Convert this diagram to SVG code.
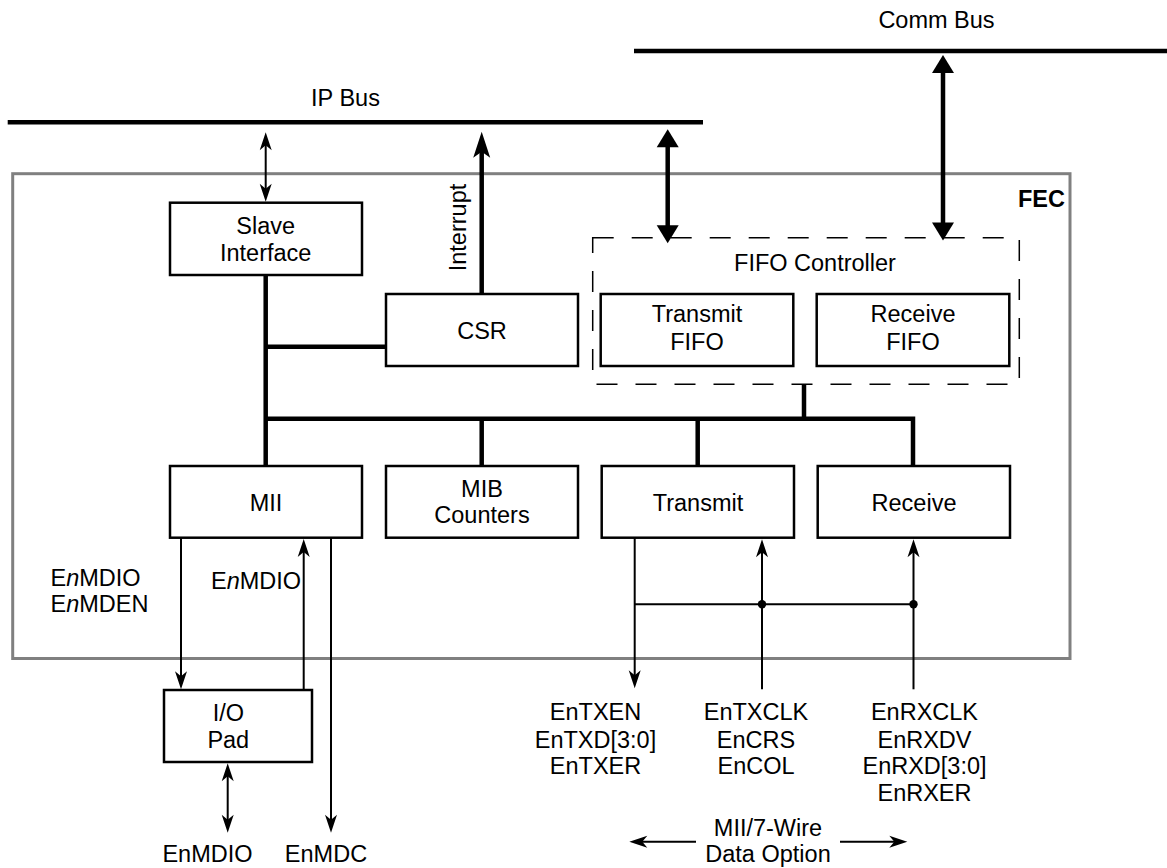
<svg xmlns="http://www.w3.org/2000/svg" width="1167" height="868" viewBox="0 0 1167 868">
<style>
text{font-family:"Liberation Sans",Arial,sans-serif;font-size:23.5px;fill:#000}
.c{text-anchor:middle}
.box{fill:#fff;stroke:#000;stroke-width:2.5}
.bus{stroke:#000;stroke-width:4.5;fill:none}
.thk{stroke:#000;stroke-width:4.5;fill:none;stroke-linejoin:miter;stroke-linecap:butt}
.thn{stroke:#000;stroke-width:2;fill:none}
</style>
<defs>
<marker id="ta" markerUnits="userSpaceOnUse" viewBox="-20 -10 32 20" refX="0" refY="0" markerWidth="32" markerHeight="20" orient="auto-start-reverse">
<path d="M8,0 L-10,-6 L-5,0 L-10,6 Z" fill="#000"/>
</marker>
<marker id="tri" markerUnits="userSpaceOnUse" viewBox="-10 -13 26 26" refX="0" refY="0" markerWidth="26" markerHeight="26" orient="auto-start-reverse">
<path d="M12,0 L-6,-11 L-6,11 Z" fill="#000"/>
</marker>
<marker id="ia" markerUnits="userSpaceOnUse" viewBox="-16 -10 30 20" refX="0" refY="0" markerWidth="30" markerHeight="20" orient="auto">
<path d="M12,0 L-14,-8.5 L-8,0 L-14,8.5 Z" fill="#000"/>
</marker>
</defs>

<g id="comm-bus">
<line class="bus" x1="634" y1="51" x2="1167" y2="51"/>
<text class="c" x="936.5" y="27.5">Comm Bus</text>
</g>
<g id="ip-bus">
<line class="bus" x1="7.7" y1="122.3" x2="703" y2="122.3"/>
<text class="c" x="345.5" y="106">IP Bus</text>
</g>

<g id="fec">
<rect x="12.7" y="173.7" width="1057.3" height="484.8" fill="none" stroke="#808080" stroke-width="3"/>
<text x="1065" y="207" text-anchor="end" font-weight="bold">FEC</text>
</g>

<g id="fifo-controller">
<rect x="592.7" y="237.7" width="426.6" height="146.6" fill="none" stroke="#000" stroke-width="1.5" stroke-dasharray="21 18"/>
<text class="c" x="815" y="270.7">FIFO Controller</text>
</g>

<g id="slave-interface">
<rect class="box" x="170" y="202.7" width="192" height="72.3"/>
<text class="c" x="265.7" y="234">Slave</text>
<text class="c" x="265.7" y="261">Interface</text>
</g>
<g id="csr">
<rect class="box" x="386" y="294" width="192" height="72"/>
<text class="c" x="482" y="338.5">CSR</text>
</g>
<g id="transmit-fifo">
<rect class="box" x="600.7" y="294" width="192.6" height="72"/>
<text class="c" x="697" y="321.7">Transmit</text>
<text class="c" x="697" y="350">FIFO</text>
</g>
<g id="receive-fifo">
<rect class="box" x="816.7" y="294" width="192.6" height="72"/>
<text class="c" x="913" y="321.7">Receive</text>
<text class="c" x="913" y="350">FIFO</text>
</g>
<g id="mii">
<rect class="box" x="170" y="466" width="192" height="71.7"/>
<text class="c" x="266" y="510.7">MII</text>
</g>
<g id="mib-counters">
<rect class="box" x="386" y="466" width="192" height="71.7"/>
<text class="c" x="482" y="496.7">MIB</text>
<text class="c" x="482" y="523.3">Counters</text>
</g>
<g id="transmit">
<rect class="box" x="601.7" y="466" width="192.3" height="71.7"/>
<text class="c" x="698" y="510.7">Transmit</text>
</g>
<g id="receive">
<rect class="box" x="817.7" y="466" width="192.3" height="71.7"/>
<text class="c" x="914" y="510.7">Receive</text>
</g>
<g id="io-pad">
<rect class="box" x="164" y="690" width="148" height="72"/>
<text class="c" x="228.3" y="721">I/O</text>
<text class="c" x="228.3" y="747.7">Pad</text>
</g>

<g id="connectors">
<!-- internal thick buses -->
<line class="thk" x1="265.7" y1="275" x2="265.7" y2="466"/>
<line class="thk" x1="265.7" y1="346.7" x2="386" y2="346.7"/>
<path class="thk" d="M265.7,418.7 H913 V466"/>
<line class="thk" x1="481.7" y1="418.7" x2="481.7" y2="466"/>
<line class="thk" x1="697.7" y1="418.7" x2="697.7" y2="466"/>
<line class="thk" x1="804" y1="385" x2="804" y2="418.7"/>
<!-- interrupt -->
<line class="thk" x1="481.7" y1="294" x2="481.7" y2="143.7" marker-end="url(#ia)"/>
<!-- thick double arrows -->
<line class="thk" x1="667.7" y1="141.3" x2="667.7" y2="231.3" marker-start="url(#tri)" marker-end="url(#tri)"/>
<line class="thk" x1="943" y1="67" x2="943" y2="228.5" marker-start="url(#tri)" marker-end="url(#tri)"/>
<!-- thin -->
<line class="thn" x1="265.7" y1="140.3" x2="265.7" y2="193.7" marker-start="url(#ta)" marker-end="url(#ta)"/>
<line class="thn" x1="181" y1="537.7" x2="181" y2="681.3" marker-end="url(#ta)"/>
<line class="thn" x1="303.7" y1="690" x2="303.7" y2="547" marker-end="url(#ta)"/>
<line class="thn" x1="331" y1="537.7" x2="331" y2="824.7" marker-end="url(#ta)"/>
<line class="thn" x1="227.7" y1="771.3" x2="227.7" y2="824.7" marker-start="url(#ta)" marker-end="url(#ta)"/>
<line class="thn" x1="634.7" y1="537.7" x2="634.7" y2="680.3" marker-end="url(#ta)"/>
<line class="thn" x1="762" y1="689.3" x2="762" y2="547.3" marker-end="url(#ta)"/>
<line class="thn" x1="913.5" y1="689.3" x2="913.5" y2="547.3" marker-end="url(#ta)"/>
<line class="thn" x1="634.7" y1="604.3" x2="913.5" y2="604.3"/>
<circle cx="762" cy="604.3" r="4.2" fill="#000"/>
<circle cx="913.5" cy="604.3" r="4.2" fill="#000"/>
<line class="thn" x1="696" y1="841.7" x2="637.3" y2="841.7" marker-end="url(#ta)"/>
<line class="thn" x1="840" y1="841.7" x2="899.3" y2="841.7" marker-end="url(#ta)"/>
</g>

<g id="labels">
<text transform="translate(465.5,227.5) rotate(-90)" class="c">Interrupt</text>
<text x="50.5" y="586">E<tspan font-style="italic">n</tspan>MDIO</text>
<text x="50.5" y="611.7">E<tspan font-style="italic">n</tspan>MDEN</text>
<text x="211" y="589.3">E<tspan font-style="italic">n</tspan>MDIO</text>
<text class="c" x="207.5" y="862.3">EnMDIO</text>
<text class="c" x="326" y="862.3">EnMDC</text>
<text class="c" x="595.5" y="720">EnTXEN</text>
<text class="c" x="595.5" y="747.7">EnTXD[3:0]</text>
<text class="c" x="595.5" y="774.3">EnTXER</text>
<text class="c" x="756" y="720">EnTXCLK</text>
<text class="c" x="756" y="747.7">EnCRS</text>
<text class="c" x="756" y="774.3">EnCOL</text>
<text class="c" x="924.5" y="720">EnRXCLK</text>
<text class="c" x="924.5" y="747.7">EnRXDV</text>
<text class="c" x="924.5" y="774.3">EnRXD[3:0]</text>
<text class="c" x="924.5" y="800.5">EnRXER</text>
<text class="c" x="768" y="836">MII/7-Wire</text>
<text class="c" x="768" y="861.7">Data Option</text>
</g>
</svg>
